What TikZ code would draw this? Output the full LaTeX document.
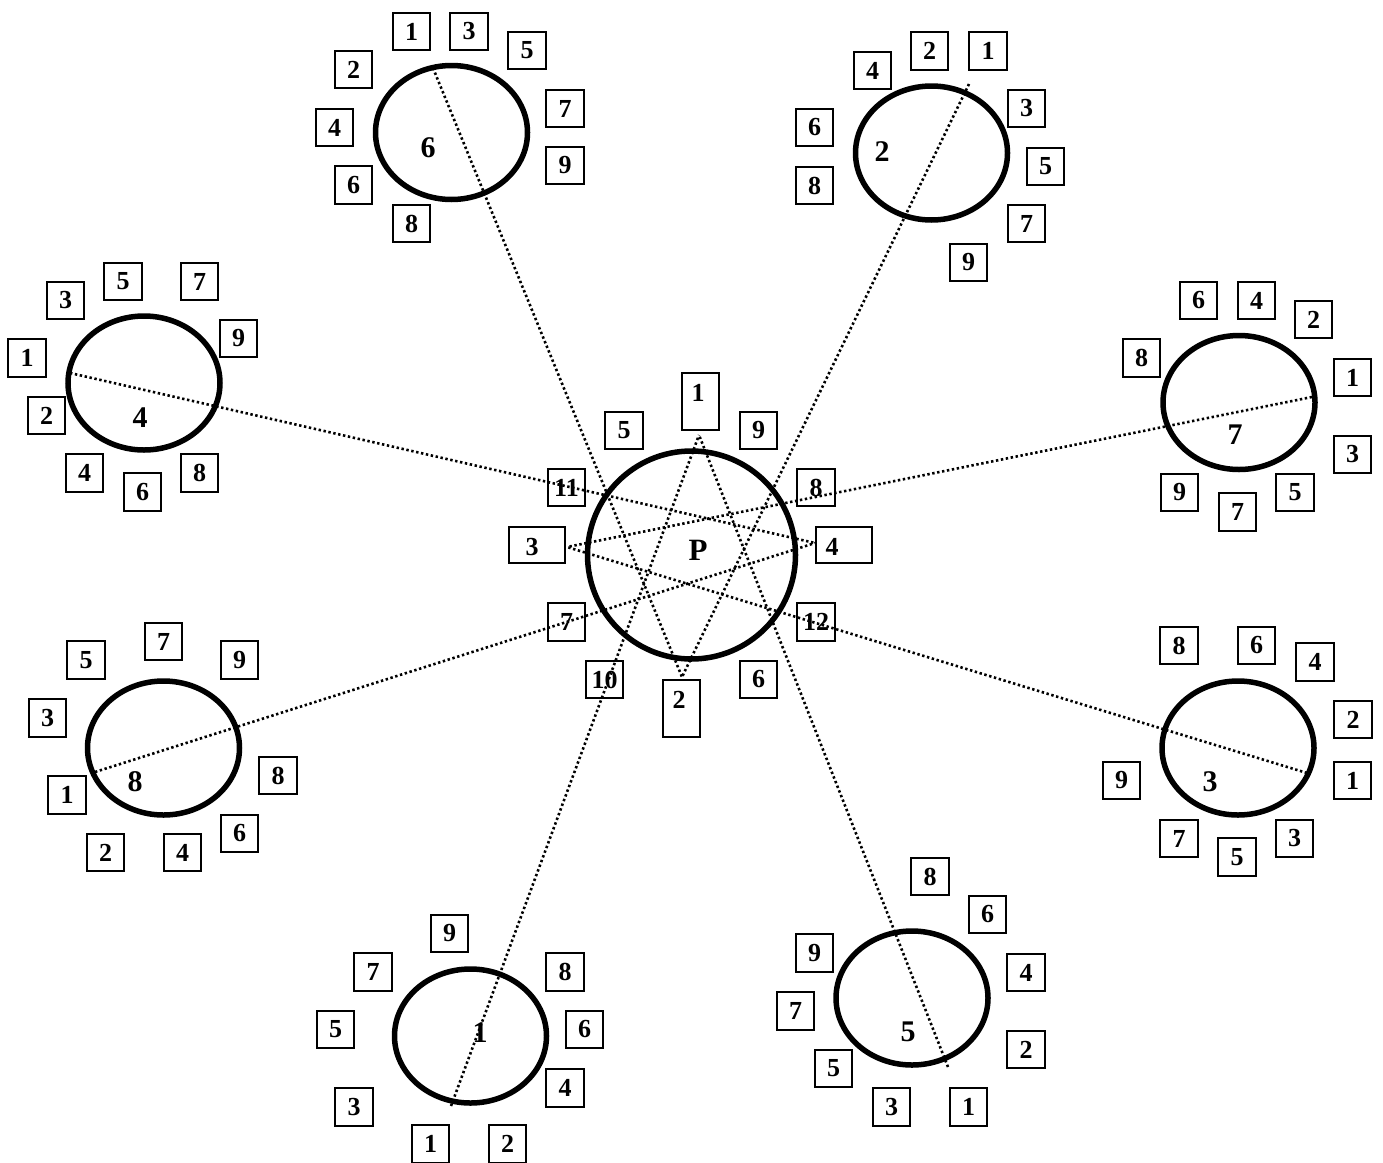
\documentclass[tikz,border=0pt]{standalone}
\usepackage{fontspec}
\setmainfont{Liberation Serif}
\usetikzlibrary{shapes.geometric}
\tikzset{
  nbox/.style={draw, line width=2.2pt, minimum width=37.5pt, minimum height=37.5pt, inner sep=0pt, font=\bfseries\fontsize{26}{26}\selectfont},
  tallbox/.style={draw, line width=2.2pt, minimum width=37.5pt, minimum height=57pt, inner sep=0pt},
  widebox/.style={draw, line width=2.2pt, minimum width=56pt, minimum height=36pt, inner sep=0pt},
  boxtext/.style={inner sep=0pt, font=\bfseries\fontsize{26}{26}\selectfont},
  sat/.style={ellipse, draw, line width=5.5pt, minimum width=152pt, minimum height=134pt, inner sep=0pt},
  satlabel/.style={inner sep=0pt, font=\bfseries\fontsize{30}{30}\selectfont},
  hub/.style={circle, draw, line width=5.5pt, minimum size=208pt, inner sep=0pt},
  hublabel/.style={inner sep=0pt, font=\bfseries\fontsize{31}{31}\selectfont},
  link/.style={line width=2.6pt, dash pattern=on 2.4pt off 2.6pt}
}
\begin{document}
\begin{tikzpicture}[x=1pt, y=-1pt]
\useasboundingbox (0,0) rectangle (1383,1162);
\fill[white] (0,0) rectangle (1383,1162);

% hub
\node[hub] (hub) at (691.5,555) {};
\node[hublabel] (hubP) at (698,550) {P};

\node[tallbox] (c1) at (700.5,401.5) {};
\node[boxtext] (c1t) at (698,393) {1};
\node[tallbox] (c2) at (681.5,708.5) {};
\node[boxtext] (c2t) at (679,700) {2};
\node[widebox] (c3) at (537,545) {};
\node[boxtext] (c3t) at (532,547) {3};
\node[widebox] (c4) at (844,545) {};
\node[boxtext] (c4t) at (832,547) {4};
\node[nbox] (c5) at (624,430.5) {5};
\node[nbox] (c9) at (758.5,430.5) {9};
\node[nbox] (c11) at (566.5,487.5) {11};
\node[nbox] (c8) at (816,487.5) {8};
\node[nbox] (c7) at (566.5,622) {7};
\node[nbox] (c12) at (816,622) {12};
\node[nbox] (c10) at (604.5,679.5) {10};
\node[nbox] (c6) at (758.5,679.5) {6};

% satellites
\node[sat] (e6) at (451.5,132.5) {};
\node[satlabel] (l6) at (428,148) {6};
\node[sat] (e2) at (931.5,153) {};
\node[satlabel] (l2) at (882,152) {2};
\node[sat] (e4) at (144,383) {};
\node[satlabel] (l4) at (140,418) {4};
\node[sat] (e7) at (1239,402.5) {};
\node[satlabel] (l7) at (1235,435) {7};
\node[sat] (e8) at (163.5,748) {};
\node[satlabel] (l8) at (135,782) {8};
\node[sat] (e3) at (1238,748) {};
\node[satlabel] (l3) at (1210,782) {3};
\node[sat] (e1) at (470.5,1036) {};
\node[satlabel] (l1) at (480,1033) {1};
\node[sat] (e5) at (912,998) {};
\node[satlabel] (l5) at (908,1032) {5};

% satellite boxes
\foreach \t/\x/\y in {1/411.5/31.5, 3/469/31.5, 5/527/50.5, 2/353.5/69.5, 7/565/108.5, 4/334.5/127.5, 9/565/165.5, 6/353.5/185, 8/411.5/223.5}
  \node[nbox] (s6b\t) at (\x,\y) {\t};
\foreach \t/\x/\y in {2/929.5/51, 1/988/51, 4/872.5/70.5, 3/1026.5/108.5, 6/814.5/127.5, 5/1045.5/166.5, 8/814.5/185.5, 7/1026.5/223.5, 9/968.5/262.5}
  \node[nbox] (s2b\t) at (\x,\y) {\t};
\foreach \t/\x/\y in {5/123/281.5, 7/199.5/281.5, 3/65.5/300.5, 9/238.5/338.5, 1/27/358, 2/46.5/415.5, 4/84.5/473, 8/199.5/473, 6/142.5/492}
  \node[nbox] (s4b\t) at (\x,\y) {\t};
\foreach \t/\x/\y in {6/1198.5/300.5, 4/1256.5/300.5, 2/1313.5/319.5, 8/1141.5/358, 1/1352.5/377.5, 3/1352.5/454.5, 5/1295/492.5, 9/1179.5/492.5, 7/1237.5/512}
  \node[nbox] (s7b\t) at (\x,\y) {\t};
\foreach \t/\x/\y in {7/163.5/641.5, 5/86/660, 9/239.5/660, 3/47.5/718, 8/278/775.5, 1/67/795, 6/239.5/833.5, 2/105.5/852.5, 4/182.5/852.5}
  \node[nbox] (s8b\t) at (\x,\y) {\t};
\foreach \t/\x/\y in {8/1179/645.5, 6/1256.5/645.5, 4/1315/662, 2/1353/719.5, 9/1121.5/780.5, 1/1352.5/780.5, 7/1179/838.5, 3/1294.5/838.5, 5/1237/857}
  \node[nbox] (s3b\t) at (\x,\y) {\t};
\foreach \t/\x/\y in {9/449.5/933.5, 7/373/972, 8/565/972, 5/335.5/1029.5, 6/584.5/1029.5, 4/565/1088, 3/354/1107, 1/430.5/1144, 2/507.5/1144}
  \node[nbox] (s1b\t) at (\x,\y) {\t};
\foreach \t/\x/\y in {8/930/876.5, 6/987.5/914.5, 9/814.5/953, 4/1026/972.5, 7/795.5/1011, 2/1026/1049.5, 5/833.5/1068.5, 3/891.5/1107, 1/968.5/1107}
  \node[nbox] (s5b\t) at (\x,\y) {\t};

% connector end points
\coordinate (p6) at (433,68);
\coordinate (p2) at (969,84);
\coordinate (p4) at (70,373);
\coordinate (p8) at (95,772);
\coordinate (p7) at (1312,397);
\coordinate (p3) at (1307,773);
\coordinate (p1) at (451,1106);
\coordinate (p5) at (948,1067);
\coordinate (h1) at (699,435);
\coordinate (h2) at (682,677);
\coordinate (h3) at (567,547);
\coordinate (h4) at (815,543);

\draw[link] (p6) -- (h2);
\draw[link] (p2) -- (h2);
\draw[link] (p4) -- (h4);
\draw[link] (p8) -- (h4);
\draw[link] (p7) -- (h3);
\draw[link] (p3) -- (h3);
\draw[link] (p1) -- (h1);
\draw[link] (p5) -- (h1);
\end{tikzpicture}
\end{document}
